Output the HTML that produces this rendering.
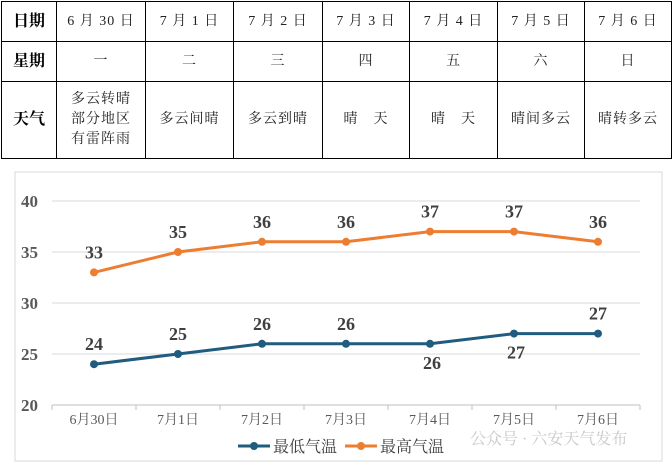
<!DOCTYPE html>
<html><head><meta charset="utf-8"><style>
body{margin:0;width:672px;height:465px;background:#fff;overflow:hidden;font-family:"Liberation Serif","Noto Serif CJK SC",serif}
table{position:absolute;left:1px;top:1px;border-collapse:collapse}
td{border:1px solid #000;text-align:center;font-size:14px;color:#222;padding:0;line-height:20px;font-family:"Liberation Serif","Noto Serif CJK SC",serif;letter-spacing:1px}
td.h{font-weight:bold;font-size:16px;font-family:"Liberation Serif","Noto Serif CJK SC",serif;color:#000;letter-spacing:0}
svg{position:absolute;left:0;top:0}
</style></head><body>
<table>
<tr style="height:40px"><td class="h" style="width:54px">日期</td><td style="width:88px">6 月 30 日</td><td style="width:87px">7 月 1 日</td><td style="width:88px">7 月 2 日</td><td style="width:86px">7 月 3 日</td><td style="width:87px">7 月 4 日</td><td style="width:86px">7 月 5 日</td><td style="width:86px">7 月 6 日</td></tr>
<tr style="height:40px"><td class="h">星期</td><td>一</td><td>二</td><td>三</td><td>四</td><td>五</td><td>六</td><td>日</td></tr>
<tr style="height:77px"><td class="h">天气</td><td>多云转晴<br>部分地区<br>有雷阵雨</td><td>多云间晴</td><td>多云到晴</td><td>晴　天</td><td>晴　天</td><td>晴间多云</td><td>晴转多云</td></tr>
</table>
<svg id="c" width="672" height="465"></svg>
<script>
const categories=["6月30日","7月1日","7月2日","7月3日","7月4日","7月5日","7月6日"];
const lowTemps=[24,25,26,26,26,27,27];
const highTemps=[33,35,36,36,37,37,36];
const yTicks=[20,25,30,35,40];
const lowBelow=[false,false,false,false,true,true,false];
const svg=document.getElementById('c');const NS='http://www.w3.org/2000/svg';
function el(t,a,p){const e=document.createElementNS(NS,t);for(const k in a)e.setAttribute(k,a[k]);(p||svg).appendChild(e);return e;}
const x0=52,cw=84,yb=405,yt=201;
const X=i=>x0+cw*(i+0.5);
const Y=v=>yb-(v-20)/20*(yb-yt);
const f=el('rect',{x:15,y:172,width:647,height:289,fill:'none',stroke:'#d9d9d9'});

yTicks.forEach(v=>{
 const g=el('line',{x1:x0,x2:x0+cw*7,y1:Y(v),y2:Y(v),stroke:v==20?'#bfbfbf':'#d9d9d9'});
 
 const t=el('text',{x:38,y:Y(v)+6,'text-anchor':'end','font-size':17,fill:'#595959','font-weight':'bold'});t.textContent=v;
 
});
for(let i=0;i<=7;i++){const k=el('line',{x1:x0+cw*i,x2:x0+cw*i,y1:yb,y2:yb+5,stroke:'#bfbfbf'});}
categories.forEach((c,i)=>{const t=el('text',{x:X(i),y:424,'text-anchor':'middle','font-size':14,fill:'#595959'});t.textContent=c;});
function series(d,col,name,below){
 const p=el('polyline',{points:d.map((v,i)=>X(i)+','+Y(v)).join(' '),fill:'none',stroke:col,'stroke-width':3});
 
 d.forEach((v,i)=>{const c=el('circle',{cx:X(i),cy:Y(v),r:4,fill:col});
  const b=below&&below[i];const t=el('text',{x:X(i)+(b?2:0),y:b?Y(v)+25:Y(v)-14,'text-anchor':'middle','font-size':18,'font-weight':'bold',fill:'#404040'});t.textContent=v;
  });
}
series(highTemps,'#ed7d31','high-temp');
series(lowTemps,'#1f5c7f','low-temp',lowBelow);
[[238,'#1f5c7f','最低气温','legend-low'],[345,'#ed7d31','最高气温','legend-high']].forEach(([lx,col,txt,n])=>{
 const g=el('g',{});
 el('line',{x1:lx,x2:lx+32,y1:446,y2:446,stroke:col,'stroke-width':3},g);
 el('circle',{cx:lx+16,cy:446,r:4,fill:col},g);
 const t=el('text',{x:lx+35,y:452,'font-size':16,fill:'#404040'},g);t.textContent=txt;
});
const w=el('text',{x:470,y:444,'font-size':16,fill:'#c8c8c8'});w.textContent='公众号 · 六安天气发布';

</script>
</body></html>
